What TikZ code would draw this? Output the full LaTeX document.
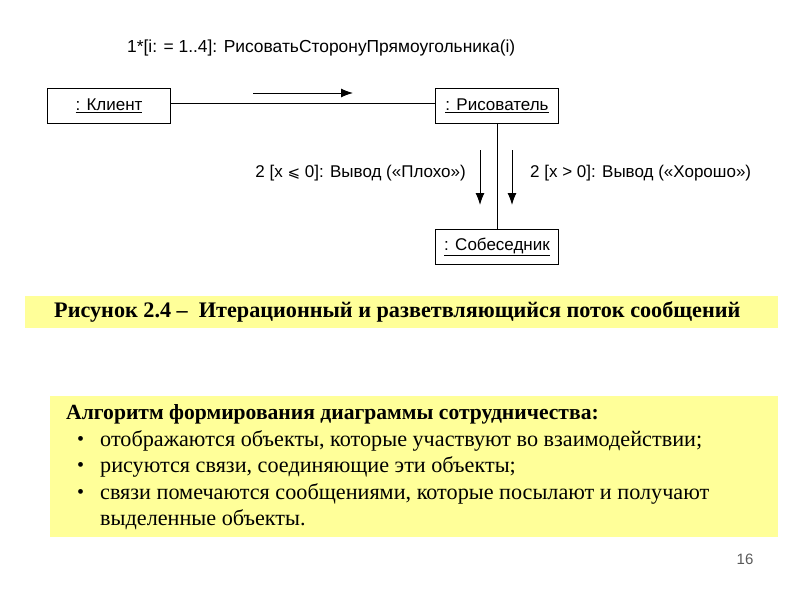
\documentclass[tikz,border=0pt]{standalone}
\usepackage{fontspec}
\setmainfont{Liberation Serif}
\newfontfamily\arialf{Liberation Sans}
\newfontfamily\dejavuf{DejaVu Sans}
\usetikzlibrary{arrows.meta}
\definecolor{paleyel}{RGB}{255,255,153}
\tikzset{
  obj/.style={draw, line width=1.3pt, minimum width=123pt, minimum height=35pt, inner sep=2pt, font=\arialf\fontsize{17}{20}\selectfont},
  lbl/.style={font=\arialf\fontsize{17}{20}\selectfont, inner sep=0pt},
  msg/.style={line width=1pt, -{Latex[length=12pt,width=9pt]}},
  link/.style={line width=1pt},
  band/.style={fill=paleyel, draw=none},
  body/.style={anchor=west, font=\fontsize{22.2}{26}\selectfont, inner sep=0pt},
  bul/.style={anchor=west, font=\fontsize{20}{24}\selectfont, inner sep=0pt}
}
\begin{document}
\begin{tikzpicture}[x=1pt,y=-1pt]
\useasboundingbox (0,0) rectangle (800,600);
% diagram
\node[obj] (klient) at (109,106) {\underline{: Клиент}};
\node[obj] (risov) at (497,106) {\underline{: Рисователь}};
\node[obj] (sobes) at (497,247) {\underline{: Собеседник}};
\draw[link] ([yshift=3pt]klient.east) -- ([yshift=3pt]risov.west);
\draw[link] (risov) -- (sobes);
\node[lbl, anchor=west, font=\arialf\fontsize{17.4}{20}\selectfont] (top) at (127,48) {1*[i: = 1..4]: РисоватьСторонуПрямоугольника(i)};
\coordinate (a1s) at (253,93);
\coordinate (a1e) at (353,93);
\draw[msg] (a1s) -- (a1e);
\coordinate (a2s) at (480,150);
\coordinate (a2e) at (480,205);
\coordinate (a3s) at (512,150);
\coordinate (a3e) at (512,205);
\draw[msg] (a2s) -- (a2e);
\draw[msg] (a3s) -- (a3e);
\node[lbl, anchor=east] (bad) at (466,173) {2 [x {\dejavuf\fontsize{15}{18}\selectfont ⩽} 0]: Вывод («Плохо»)};
\node[lbl, anchor=west] (good) at (530,173) {2 [x > 0]: Вывод («Хорошо»)};
% caption
\fill[band] (25,296) rectangle (778,328);
\node[anchor=west, inner sep=0pt, font=\bfseries\fontsize{22.2}{26}\selectfont] (cap) at (54,312) {Рисунок 2.4 –\ \ Итерационный и разветвляющийся поток сообщений};
% algorithm box
\fill[band] (50,396) rectangle (778,537);
\node[body, font=\bfseries\fontsize{21.6}{26}\selectfont] (head) at (66,414) {Алгоритм формирования диаграммы сотрудничества:};
\node[bul] (b1) at (77,441) {•};
\node[body] (t1) at (100,441) {отображаются объекты, которые участвуют во взаимодействии;};
\node[bul] (b2) at (77,467) {•};
\node[body] (t2) at (100,467) {рисуются связи, соединяющие эти объекты;};
\node[bul] (b3) at (77,494) {•};
\node[body] (t3) at (100,494) {связи помечаются сообщениями, которые посылают и получают};
\node[body] (t4) at (100,520) {выделенные объекты.};
% page number
\node[font=\arialf\fontsize{15}{18}\selectfont, text=black!65] (pg) at (745,559) {16};
\end{tikzpicture}
\end{document}
